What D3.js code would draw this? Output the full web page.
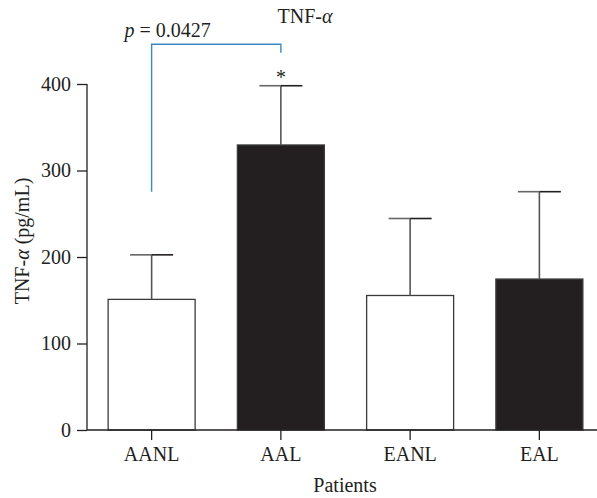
<!DOCTYPE html>
<html><head><meta charset="utf-8">
<script src="https://cdn.jsdelivr.net/npm/d3@7"></script>
<style>body{margin:0;background:#fff}svg{display:block;font-family:"Liberation Serif","DejaVu Serif",serif}</style>
</head><body><svg id="c" width="597" height="498"></svg>
<script>
const categories = ["AANL","AAL","EANL","EAL"];
const means = [151, 329.5, 155.5, 174.5];
const upperErr = [202.5, 398, 244.5, 275.5];
const fills = ["#fff","#231f20","#fff","#231f20"];
const yTicks = [0,100,200,300,400];
const bracket = {from:"AANL", to:"AAL", top:446, leftBottom:275.5, rightBottom:436, label:"p = 0.0427"};

const svg = d3.select("#c");
const y = d3.scaleLinear().domain([0,400]).range([430,84]);
const x = d3.scaleBand().domain(categories).range([87,604]).paddingInner(0.327).paddingOuter(0.1635);
const ink = "#231f20";
const fs = "20px";

// bars
svg.append("g").selectAll("rect").data(categories).join("rect")
  .attr("x", d=>x(d)).attr("width", x.bandwidth())
  .attr("y", (d,i)=>y(means[i])).attr("height",(d,i)=>y(0)-y(means[i]))
  .attr("fill",(d,i)=>fills[i]).attr("stroke","#3a3a3a").attr("stroke-width",1.3);

// error bars
const eg = svg.append("g");
categories.forEach((c,i)=>{
  const cx = x(c)+x.bandwidth()/2;
  eg.append("line").attr("x1",cx).attr("x2",cx).attr("y1",y(means[i])).attr("y2",y(upperErr[i]))
    .attr("stroke","#555").attr("stroke-width",1.6);
  eg.append("line").attr("x1",cx-21.5).attr("x2",cx).attr("y1",y(upperErr[i])).attr("y2",y(upperErr[i]))
    .attr("stroke","#666").attr("stroke-width",1.6);
  eg.append("line").attr("x1",cx).attr("x2",cx+21.5).attr("y1",y(upperErr[i])).attr("y2",y(upperErr[i]))
    .attr("stroke",ink).attr("stroke-width",1.6);
});

// axes
const yAxis = svg.append("g").attr("transform","translate(87,0)")
  .call(d3.axisLeft(y).tickValues(yTicks).tickSize(10).tickPadding(6));
const xAxis = svg.append("g").attr("transform","translate(0,430)")
  .call(d3.axisBottom(x).tickSize(10).tickPadding(7));
[yAxis,xAxis].forEach(a=>{
  a.select(".domain").remove();
  a.selectAll(".tick line").attr("stroke",ink).attr("stroke-width",1.3);
  a.selectAll("text").attr("fill",ink).style("font-size",fs).style("font-family","'Liberation Serif',serif");
});
svg.append("line").attr("x1",87).attr("x2",87).attr("y1",y(0)).attr("y2",y(400)).attr("stroke",ink).attr("stroke-width",1.3);
svg.append("line").attr("x1",87).attr("x2",597).attr("y1",y(0)).attr("y2",y(0)).attr("stroke",ink).attr("stroke-width",1.3);

// labels
svg.append("text").attr("x",305).attr("y",23).attr("text-anchor","middle").attr("fill",ink)
  .style("font-size",fs).html('TNF-<tspan font-style="italic">α</tspan>');
svg.append("text").attr("transform","translate(29,241) rotate(-90)").attr("text-anchor","middle").attr("fill",ink)
  .style("font-size",fs).html('TNF-<tspan font-style="italic">α</tspan> (pg/mL)');
svg.append("text").attr("x",345).attr("y",492).attr("text-anchor","middle").attr("fill",ink)
  .style("font-size",fs).text("Patients");

// bracket
const bx1 = x(bracket.from)+x.bandwidth()/2, bx2 = x(bracket.to)+x.bandwidth()/2;
svg.append("path").attr("fill","none").attr("stroke","#3b87c6").attr("stroke-width",1.4)
  .attr("d",`M${bx1},${y(bracket.leftBottom)}V${y(bracket.top)}H${bx2}V${y(bracket.rightBottom)}`);
svg.append("text").attr("x",bx1+16).attr("y",37).attr("text-anchor","middle").attr("fill",ink)
  .style("font-size",fs).html('<tspan font-style="italic">p</tspan> = 0.0427');
svg.append("text").attr("x",bx2).attr("y",84).attr("text-anchor","middle").attr("fill",ink)
  .style("font-size",fs).text("*");
</script></body></html>
